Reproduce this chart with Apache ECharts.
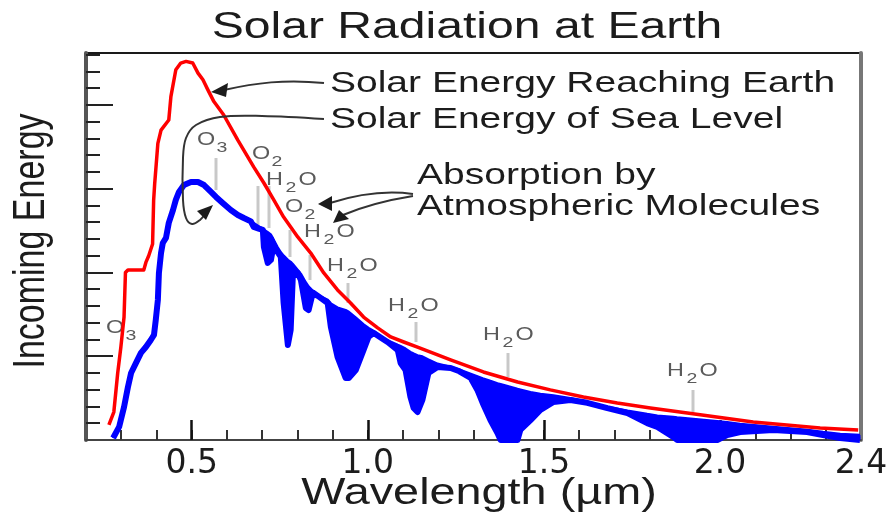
<!DOCTYPE html>
<html>
<head>
<meta charset="utf-8">
<script src="https://cdn.jsdelivr.net/npm/echarts@6/dist/echarts.min.js"></script>
<style>
  html, body { margin: 0; padding: 0; background: #fff; }
  #chart { width: 896px; height: 514px; }
</style>
</head>
<body>
<div id="chart"></div>
<script>
// Solar spectral irradiance (W·m⁻²·nm⁻¹) against wavelength (µm)

// Top of atmosphere spectrum
const toaWavelength = [0.265, 0.279, 0.290, 0.299, 0.308, 0.312, 0.319, 0.364, 0.370, 0.378, 0.389, 0.392, 0.395,
  0.404, 0.413, 0.435, 0.441, 0.455, 0.469, 0.484, 0.503, 0.518, 0.532, 0.546, 0.563, 0.591, 0.631, 0.676,
  0.705, 0.733, 0.761, 0.801, 0.838, 0.875, 0.914, 0.951, 0.988, 1.028, 1.065, 1.102, 1.141, 1.178, 1.235,
  1.328, 1.425, 1.518, 1.612, 1.708, 1.802, 1.907, 2.094, 2.284, 2.392];
const toaEnergy = [0.09, 0.167, 0.40, 0.555, 0.734, 1.000, 1.015, 1.015, 1.060, 1.100, 1.170, 1.43, 1.53,
  1.77, 1.85, 1.91, 2.05, 2.21, 2.25, 2.26, 2.25, 2.19, 2.15, 2.09, 2.02, 1.94, 1.79, 1.63,
  1.534, 1.433, 1.331, 1.212, 1.116, 0.997, 0.896, 0.818, 0.734, 0.669, 0.615, 0.585, 0.555, 0.525, 0.478,
  0.406, 0.346, 0.299, 0.257, 0.221, 0.191, 0.161, 0.107, 0.072, 0.060];

// Sea level spectrum and its smooth unabsorbed envelope, on a shared wavelength grid
const seaWavelength = [0.277, 0.294, 0.308, 0.319, 0.328, 0.342, 0.356, 0.370, 0.384, 0.393, 0.398, 0.404,
  0.407, 0.413, 0.418, 0.427, 0.435, 0.447, 0.455, 0.464, 0.478, 0.498, 0.518, 0.535, 0.549, 0.569, 0.588,
  0.611, 0.631, 0.648, 0.668, 0.676, 0.690, 0.702, 0.705, 0.716, 0.725, 0.730, 0.744, 0.753, 0.761, 0.773,
  0.781, 0.787, 0.801, 0.810, 0.824, 0.832, 0.844, 0.858, 0.886, 0.895, 0.914, 0.937, 0.946, 0.966, 0.988,
  1.002, 1.017, 1.045, 1.056, 1.085, 1.093, 1.107, 1.121, 1.130, 1.141, 1.155, 1.172, 1.198, 1.235, 1.260,
  1.292, 1.311, 1.326, 1.348, 1.368, 1.377, 1.425, 1.433, 1.462, 1.490, 1.527, 1.575, 1.623, 1.680, 1.737,
  1.793, 1.822, 1.867, 1.878, 1.992, 2.020, 2.057, 2.151, 2.247, 2.292, 2.341, 2.397];
const unabsorbedEnergy = [0.012, 0.078, 0.197, 0.316, 0.400, 0.460, 0.520, 0.555, 0.597, 0.627, 0.716, 0.836,
  0.997, 1.116, 1.176, 1.206, 1.296, 1.373, 1.433, 1.481, 1.522, 1.540, 1.540, 1.522, 1.493, 1.451, 1.415,
  1.373, 1.343, 1.325, 1.305, 1.295, 1.275, 1.260, 1.255, 1.240, 1.225, 1.215, 1.150, 1.120, 1.100, 1.075,
  1.063, 1.050, 1.015, 0.991, 0.940, 0.915, 0.890, 0.865, 0.836, 0.815, 0.790, 0.775, 0.765, 0.730, 0.690,
  0.668, 0.650, 0.603, 0.595, 0.567, 0.560, 0.545, 0.525, 0.515, 0.505, 0.498, 0.480, 0.455, 0.436, 0.420,
  0.395, 0.380, 0.368, 0.352, 0.338, 0.333, 0.304, 0.300, 0.285, 0.275, 0.265, 0.250, 0.225, 0.197, 0.175,
  0.155, 0.145, 0.137, 0.134, 0.112, 0.106, 0.096, 0.078, 0.060, 0.048, 0.036, 0.030];
const seaLevelEnergy = [0.012, 0.078, 0.197, 0.316, 0.400, 0.460, 0.520, 0.555, 0.597, 0.627, 0.716, 0.836,
  0.997, 1.116, 1.176, 1.206, 1.296, 1.373, 1.433, 1.481, 1.522, 1.540, 1.540, 1.522, 1.493, 1.451, 1.415,
  1.373, 1.343, 1.325, 1.305, 1.272, 1.262, 1.254, 1.152, 1.057, 1.075, 1.134, 1.122, 1.093, 0.818, 0.567,
  0.657, 0.973, 0.997, 0.955, 0.788, 0.776, 0.880, 0.860, 0.818, 0.675, 0.496, 0.370, 0.370, 0.418, 0.537,
  0.615, 0.639, 0.600, 0.585, 0.537, 0.460, 0.418, 0.257, 0.191, 0.167, 0.239, 0.400, 0.436, 0.430, 0.410,
  0.370, 0.299, 0.221, 0.119, 0.042, 0.000, 0.000, 0.060, 0.119, 0.179, 0.227, 0.239, 0.222, 0.190, 0.161,
  0.101, 0.078, 0.018, 0.000, 0.000, 0.030, 0.048, 0.060, 0.048, 0.030, 0.012, 0.000];

// Axis ticks and labels
const xMinorTicks = [];
for (let i = 3; i <= 23; i++) xMinorTicks.push(+(i / 10).toFixed(1));
const xMajorTicks = [0.5, 1.0, 1.5, 2.0];
const xTickLabels = [0.5, 1.0, 1.5, 2.0, 2.4];
const yMinorTicks = [];
for (let i = 1; i <= 23; i++) yMinorTicks.push(+(i / 10).toFixed(1));
const yMajorTicks = [0.5, 1.0, 1.5, 2.0];

const X_MIN = 0.2, X_MAX = 2.4, Y_MIN = 0, Y_MAX = 2.31;

const pair = (xs, ys) => xs.map((x, i) => [x, ys[i]]);

const BLUE = '#0000ff', RED = '#ff0000';
const SANS = '"Liberation Sans", Arial, sans-serif';
const STRETCH = 1.3;

// Stretched text helper
function label(x, y, text, size, opts) {
  opts = opts || {};
  return {
    type: 'text', x: x, y: y, z: 100,
    scaleX: opts.rotate ? 1 : STRETCH,
    scaleY: opts.rotate ? STRETCH : 1,
    rotation: opts.rotate || 0,
    style: {
      text: text, fill: opts.color || '#1c1c1c',
      font: size + 'px ' + SANS,
      textAlign: opts.align || 'left', textVerticalAlign: 'middle'
    }
  };
}

// Molecule label with a subscript digit
function molecule(x, y, parts) {
  const children = [];
  let cx = 0;
  parts.forEach(p => {
    if (p.sub) {
      children.push({ type: 'text', x: cx, y: 8, style: { text: p.t, fill: '#5a5a5a', font: '15px ' + SANS, textAlign: 'left', textVerticalAlign: 'middle' } });
      cx += 10;
    } else {
      children.push({ type: 'text', x: cx, y: 0, style: { text: p.t, fill: '#5a5a5a', font: '18px ' + SANS, textAlign: 'left', textVerticalAlign: 'middle' } });
      cx += 15;
    }
  });
  return { type: 'group', x: x, y: y, scaleX: STRETCH, z: 100, children: children };
}
const O3 = [{ t: 'O' }, { t: '3', sub: true }];
const O2 = [{ t: 'O' }, { t: '2', sub: true }];
const H2O = [{ t: 'H' }, { t: '2', sub: true }, { t: 'O' }];

function leader(x, y1, y2) {
  return { type: 'line', z: 1, shape: { x1: x, y1: y1, x2: x, y2: y2 }, style: { stroke: '#c8c8c8', lineWidth: 3 } };
}
function head(points) {
  return { type: 'polygon', z: 101, shape: { points: points }, style: { fill: '#1c1c1c' } };
}
function curve(x1, y1, c1x, c1y, c2x, c2y, x2, y2) {
  return { type: 'bezierCurve', z: 101, shape: { x1: x1, y1: y1, cpx1: c1x, cpy1: c1y, cpx2: c2x, cpy2: c2y, x2: x2, y2: y2 },
    style: { stroke: '#333', lineWidth: 2, fill: null } };
}

const graphics = [
  label(467, 28, 'Solar Radiation at Earth', 37, { align: 'center' }),
  label(479, 494, 'Wavelength (µm)', 36, { align: 'center' }),
  label(32, 241, 'Incoming Energy', 34, { align: 'center', rotate: Math.PI / 2 }),
  label(330, 84, 'Solar Energy Reaching Earth', 30),
  label(330, 120, 'Solar Energy of Sea Level', 30),
  label(417, 176, 'Absorption by', 30),
  label(417, 207, 'Atmospheric Molecules', 30),

  leader(216, 158, 190), leader(258, 186, 228), leader(269, 186, 228), leader(290, 230, 257),
  leader(310, 255, 280), leader(348, 283, 303), leader(416, 322, 342), leader(508, 353, 377),
  leader(693, 390, 412),

  molecule(106, 328, O3),
  molecule(197, 140, O3),
  molecule(252, 154, O2),
  molecule(266, 180, H2O),
  molecule(285, 207, O2),
  molecule(304, 232, H2O),
  molecule(327, 266, H2O),
  molecule(388, 306, H2O),
  molecule(483, 335, H2O),
  molecule(667, 371, H2O),

  // Arrow to the top-of-atmosphere curve
  curve(324, 83, 285, 79, 255, 83, 224, 90),
  head([[211, 92], [228, 83], [226, 97]]),
  // Arrow curling round to the sea level curve
  { type: 'polyline', z: 101, shape: { points: [[324, 119], [262, 116], [220, 117], [196, 125], [186, 138], [183, 158], [183, 200], [186, 218], [192, 224], [200, 220], [205, 214]], smooth: 0.35 },
    style: { stroke: '#333', lineWidth: 2, fill: null } },
  head([[213, 205], [197, 211], [206, 220]]),
  // Arrows to the absorption bands
  curve(413, 194, 385, 190, 355, 195, 330, 203),
  head([[318, 204], [332, 196], [332, 211]]),
  curve(413, 196, 388, 200, 362, 207, 343, 215),
  head([[333, 223], [339, 210], [349, 219]])
];

const chart = echarts.init(document.getElementById('chart'), null, { renderer: 'canvas' });

const xBase = { type: 'value', min: X_MIN, max: X_MAX, splitLine: { show: false } };
const yBase = { type: 'value', min: Y_MIN, max: Y_MAX, splitLine: { show: false } };

// Absorbed energy: the region between the unabsorbed envelope and the sea level spectrum
function renderAbsorption(params, api) {
  const upper = seaWavelength.map((w, i) => api.coord([w, unabsorbedEnergy[i]]));
  const lower = seaWavelength.map((w, i) => api.coord([w, seaLevelEnergy[i]])).reverse();
  return {
    type: 'polygon',
    shape: { points: upper.concat(lower) },
    style: { fill: BLUE, stroke: BLUE, lineWidth: 1 }
  };
}

chart.setOption({
  animation: false,
  backgroundColor: '#fff',
  grid: { left: 86, right: 35, top: 53, bottom: 74, show: true, borderColor: '#1a1a1a', borderWidth: 2, backgroundColor: 'transparent' },
  xAxis: [
    Object.assign({}, xBase, {
      position: 'bottom',
      axisLine: { show: true, onZero: false, lineStyle: { color: '#444', width: 2 } },
      axisTick: { show: true, inside: true, length: 10, customValues: xMinorTicks, lineStyle: { color: '#333', width: 2 } },
      axisLabel: { show: false }
    }),
    Object.assign({}, xBase, {
      position: 'bottom',
      axisLine: { show: false, onZero: false },
      axisTick: { show: true, inside: true, length: 20, customValues: xMajorTicks, lineStyle: { color: '#111', width: 2.5 } },
      axisLabel: { show: true, customValues: xTickLabels, margin: 8, color: '#1c1c1c', fontSize: 33, fontFamily: '"DejaVu Sans", sans-serif',
        formatter: v => v.toFixed(1), showMaxLabel: true, showMinLabel: true }
    })
  ],
  yAxis: [
    Object.assign({}, yBase, {
      position: 'left',
      axisLine: { show: true, onZero: false, lineStyle: { color: '#555', width: 4 } },
      axisTick: { show: true, inside: true, length: 14, customValues: yMinorTicks, lineStyle: { color: '#222', width: 2 } },
      axisLabel: { show: false }
    }),
    Object.assign({}, yBase, {
      position: 'left',
      axisLine: { show: false, onZero: false },
      axisTick: { show: true, inside: true, length: 27, customValues: yMajorTicks, lineStyle: { color: '#222', width: 2 } },
      axisLabel: { show: false }
    }),
    Object.assign({}, yBase, {
      position: 'right',
      axisLine: { show: true, onZero: false, lineStyle: { color: '#777', width: 4 } },
      axisTick: { show: false },
      axisLabel: { show: false }
    })
  ],
  series: [
    {
      name: 'Absorption by Atmospheric Molecules',
      type: 'custom', xAxisIndex: 0, yAxisIndex: 0,
      renderItem: renderAbsorption,
      data: [[seaWavelength[0], seaLevelEnergy[0]]],
      z: 3, silent: true
    },
    {
      name: 'Unabsorbed envelope',
      type: 'line', xAxisIndex: 0, yAxisIndex: 0,
      data: pair(seaWavelength, unabsorbedEnergy),
      showSymbol: false, symbol: 'none', z: 3,
      lineStyle: { color: BLUE, width: 2.5 }
    },
    {
      name: 'Solar Energy of Sea Level',
      type: 'line', xAxisIndex: 0, yAxisIndex: 0,
      data: pair(seaWavelength, seaLevelEnergy),
      showSymbol: false, symbol: 'none', z: 3,
      lineStyle: { color: BLUE, width: 6, join: 'round' }
    },
    {
      name: 'Solar Energy Reaching Earth',
      type: 'line', xAxisIndex: 0, yAxisIndex: 0,
      data: pair(toaWavelength, toaEnergy),
      showSymbol: false, symbol: 'none', z: 4,
      lineStyle: { color: RED, width: 3.5, join: 'round' }
    }
  ],
  graphic: { elements: graphics }
});
</script>
</body>
</html>
